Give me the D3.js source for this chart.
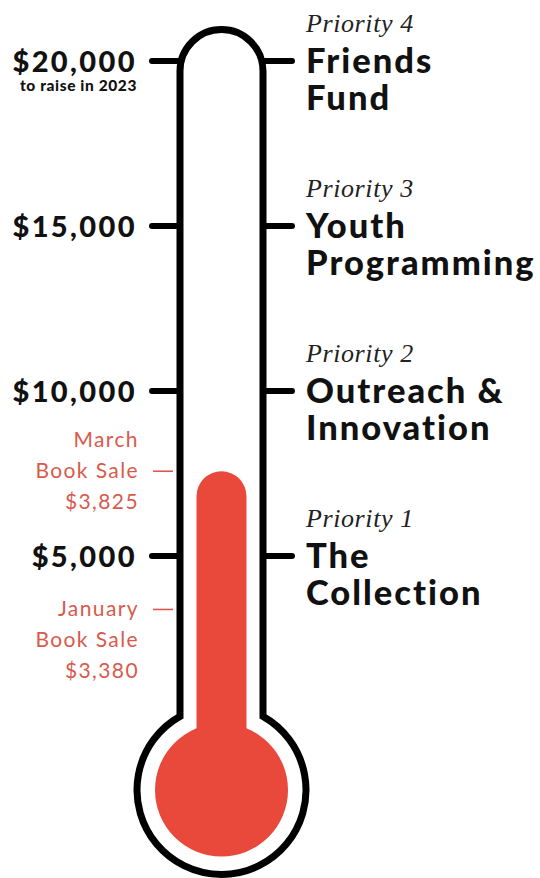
<!DOCTYPE html>
<html>
<head>
<meta charset="utf-8">
<script src="https://cdnjs.cloudflare.com/ajax/libs/d3/7.8.5/d3.min.js"></script>
<style>
  body { margin: 0; background: #fff; }
  .money { font-family: Lato, sans-serif; font-weight: 900; fill: #111; }
  .prio { font-family: "Liberation Serif", serif; font-style: italic; fill: #222; }
  .goal { font-family: Lato, sans-serif; font-weight: 900; fill: #111; }
  .sale { font-family: Lato, sans-serif; font-weight: 400; fill: #d95a4d; }
</style>
</head>
<body>
<div id="svg"></div>
<script>

// data
var goal = 20000;
var tickValues = [5000, 10000, 15000, 20000];
var tickLabels = ["$5,000", "$10,000", "$15,000", "$20,000"];
var priorities = ["Priority 1", "Priority 2", "Priority 3", "Priority 4"];
var priorityNames = [["The", "Collection"], ["Outreach &", "Innovation"], ["Youth", "Programming"], ["Friends", "Fund"]];
var sales = ["January", "March"];
var saleAmounts = [3380, 3825];

var w = 540, h = 878;
var cx = 221.5;

var svg = d3.select("#svg")
    .append("svg")
    .attr("width", w)
    .attr("height", h);

var y = d3.scaleLinear().domain([0, goal]).range([721, 61]);

var tubeL = 180, tubeR = 263;
var tubeR2 = (tubeR - tubeL) / 2;
var bulbY = 790, bulbR = 84.5;
var archY = y(goal) + 10;
var joinY = bulbY - Math.sqrt(bulbR * bulbR - tubeR2 * tubeR2);

// ticks both sides
svg.selectAll(".tickL")
    .data(tickValues)
    .enter().append("line")
    .attr("x1", 152).attr("x2", tubeL)
    .attr("y1", d => y(d)).attr("y2", d => y(d))
    .attr("stroke", "#000").attr("stroke-width", 6).attr("stroke-linecap", "round");

svg.selectAll(".tickR")
    .data(tickValues)
    .enter().append("line")
    .attr("x1", tubeR).attr("x2", 292)
    .attr("y1", d => y(d)).attr("y2", d => y(d))
    .attr("stroke", "#000").attr("stroke-width", 6).attr("stroke-linecap", "round");

// thermometer outline
var outline = "M" + tubeL + "," + joinY +
    "L" + tubeL + "," + archY +
    "A" + tubeR2 + "," + tubeR2 + " 0 0 1 " + tubeR + "," + archY +
    "L" + tubeR + "," + joinY +
    "A" + bulbR + "," + bulbR + " 0 1 1 " + tubeL + "," + joinY + "Z";

svg.append("path")
    .attr("d", outline)
    .attr("fill", "#fff")
    .attr("stroke", "#000")
    .attr("stroke-width", 7)
    .attr("stroke-linejoin", "miter");

// mercury
var total = d3.sum(saleAmounts);
var fillTop = y(total) - 12;
var fillW = 50;
svg.append("rect")
    .attr("x", cx - fillW / 2)
    .attr("y", fillTop)
    .attr("width", fillW)
    .attr("height", bulbY - fillTop)
    .attr("rx", fillW / 2)
    .attr("fill", "#e8493b");
svg.append("circle")
    .attr("cx", cx).attr("cy", bulbY).attr("r", 66.5)
    .attr("fill", "#e8493b");

// dollar labels
svg.selectAll(".money")
    .data(tickValues)
    .enter().append("text")
    .attr("class", "money")
    .attr("x", 137)
    .attr("y", d => y(d) + 10.5)
    .attr("text-anchor", "end")
    .attr("font-size", 29)
    .attr("letter-spacing", 2.4)
    .text((d, i) => tickLabels[i]);

svg.append("text")
    .attr("class", "money")
    .attr("x", 137)
    .attr("y", y(goal) + 30)
    .attr("text-anchor", "end")
    .attr("font-size", 15.5)
    .attr("letter-spacing", 0.6)
    .text("to raise in 2023");

// priorities
var pg = svg.selectAll(".prio-g")
    .data(tickValues)
    .enter().append("g")
    .attr("transform", d => "translate(306," + y(d) + ")");

pg.append("text")
    .attr("class", "prio")
    .attr("y", -29)
    .attr("font-size", 26)
    .attr("letter-spacing", 0.6)
    .text((d, i) => priorities[i]);

pg.each(function(d, i) {
    d3.select(this).selectAll(".goal")
        .data(priorityNames[i])
        .enter().append("text")
        .attr("class", "goal")
        .attr("y", (t, j) => 12 + j * 37)
        .attr("font-size", 34.5)
        .attr("letter-spacing", 2)
        .text(t => t);
});

// book sales
var cum = d3.cumsum(saleAmounts);
var saleY = [y(cum[0]), fillTop];
var saleLines = [
    [sales[0], "Book Sale", "$" + d3.format(",")(saleAmounts[0])],
    [sales[1], "Book Sale", "$" + d3.format(",")(saleAmounts[1])]
];
var saleOffset = [7, -24];

saleY.forEach(function(sy, i) {
    svg.append("line")
        .attr("x1", 153).attr("x2", 173)
        .attr("y1", sy).attr("y2", sy)
        .attr("stroke", "#d95a4d").attr("stroke-width", 1.6);
    svg.selectAll(".sale" + i)
        .data(saleLines[i])
        .enter().append("text")
        .attr("class", "sale")
        .attr("x", 139)
        .attr("y", (t, j) => sy + saleOffset[i] + j * 31)
        .attr("text-anchor", "end")
        .attr("font-size", 21)
        .attr("letter-spacing", 1.4)
        .text(t => t);
});

</script>
</body>
</html>
